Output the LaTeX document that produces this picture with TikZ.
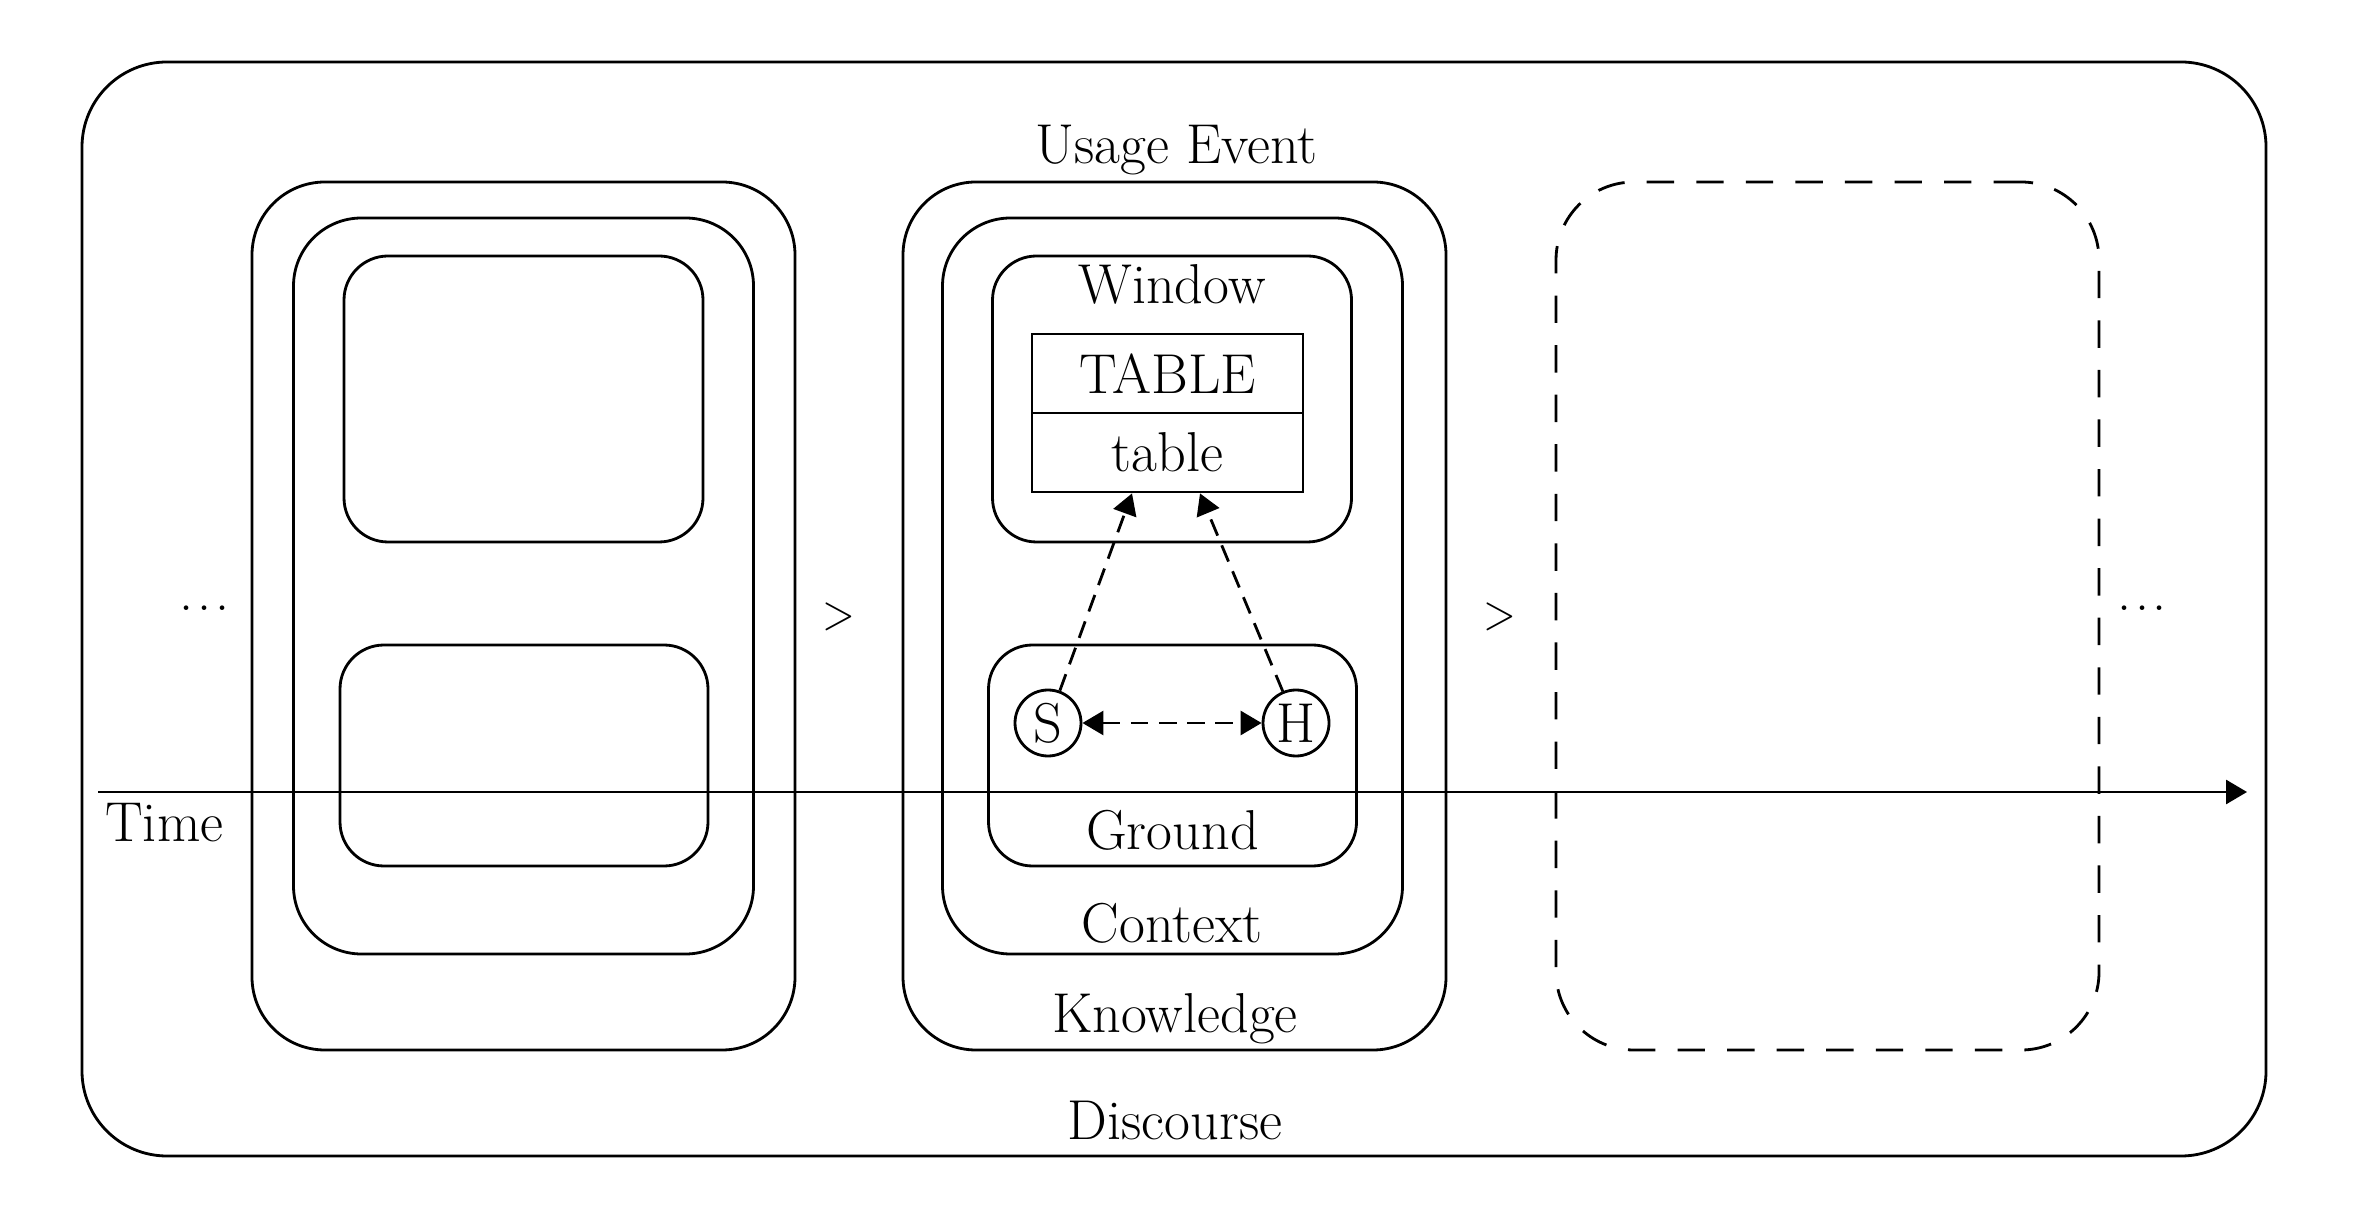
\documentclass[tikz,border=0pt]{standalone}
\usepackage{tikz}
\usetikzlibrary{arrows.meta}

\newcommand{\evdots}{.\kern.07em.\kern.07em.}

\begin{document}
\begin{tikzpicture}[line width=0.8pt,
    every node/.style={font=\fontsize{16}{19}\selectfont, inner sep=0pt},
    know/.style={draw, rounded corners=7.3mm, minimum width=5.43cm, minimum height=8.68cm},
    ctx/.style={draw, rounded corners=6.8mm, minimum width=4.60cm, minimum height=7.36cm},
    win/.style={draw, rounded corners=4.4mm, minimum width=3.59cm, minimum height=2.86cm},
    gnd/.style={draw, rounded corners=4.4mm, minimum width=3.68cm, minimum height=2.21cm},
    cell/.style={draw, minimum width=2.71cm, minimum height=0.79cm},
    agent/.style={draw, circle, minimum size=0.66cm},
    order/.style={xscale=0.85, font=\fontsize{15.5}{18}\selectfont},
    link/.style={dash pattern=on 5pt off 3pt, {Triangle[length=2.1mm, width=2.4mm]}-{Triangle[length=2.1mm, width=2.4mm]}},
    tip/.style={-{Triangle[length=2.1mm, width=2.4mm]}}]

    \useasboundingbox (0, 0) rectangle (23.56, 12.21);

    \node [draw, rounded corners=8.5mm, minimum width=21.84cm, minimum height=10.94cm] (disc) at (11.74, 6.12) {};

    % earlier event
    \node [know] (lk) at (5.235, 6.05) {};
    \node [ctx] (lc) at (5.235, 6.35) {};
    \node [win] (lw) at (5.235, 8.22) {};
    \node [gnd] (lg) at (5.24, 4.655) {};

    % usage event
    \node [know] (ck) at (11.745, 6.05) {};
    \node [ctx] (cc) at (11.725, 6.35) {};
    \node [win] (cw) at (11.72, 8.22) {};
    \node [gnd] (cg) at (11.725, 4.655) {};

    \node [cell] (tabup) at (11.675, 8.475) {TABLE};
    \node [cell] (tablo) at (11.675, 7.685) {table};

    \node [agent] (s) at (10.48, 4.98) {S};
    \node [agent] (h) at (12.96, 4.98) {H};

    % next event
    \node [know, dash pattern=on 7.8pt off 6.3pt, rounded corners=7.8mm] (rk) at (18.275, 6.05) {};

    \node [anchor=base] (usage) at (11.765, 10.57) {Usage Event};
    \node [anchor=base] (wlab) at (11.72, 9.17) {Window};
    \node [anchor=base] (glab) at (11.725, 3.71) {Ground};
    \node [anchor=base] (clab) at (11.72, 2.78) {Context};
    \node [anchor=base] (klab) at (11.75, 1.89) {Knowledge};
    \node [anchor=base] (dlab) at (11.75, 0.82) {Discourse};
    \node [anchor=base west] (tlab) at (1.04, 3.79) {Time};

    \node (ldots) at (2.05, 6.13) {\evdots};
    \node (rdots) at (21.42, 6.13) {\evdots};
    \node [order] (gt1) at (8.39, 6.04) {$>$};
    \node [order] (gt2) at (15.00, 6.04) {$>$};

    \coordinate (t0) at (0.98, 4.29);
    \coordinate (t1) at (22.47, 4.29);
    \draw [tip] (t0) -- (t1);

    \draw [link] (s) -- (h);
    \draw [tip, dash pattern=on 5pt off 3pt] (s) -- ([xshift=-3.55mm]tablo.south);
    \draw [tip, dash pattern=on 5pt off 3pt] (h) -- ([xshift=3.25mm]tablo.south);

\end{tikzpicture}
\end{document}
